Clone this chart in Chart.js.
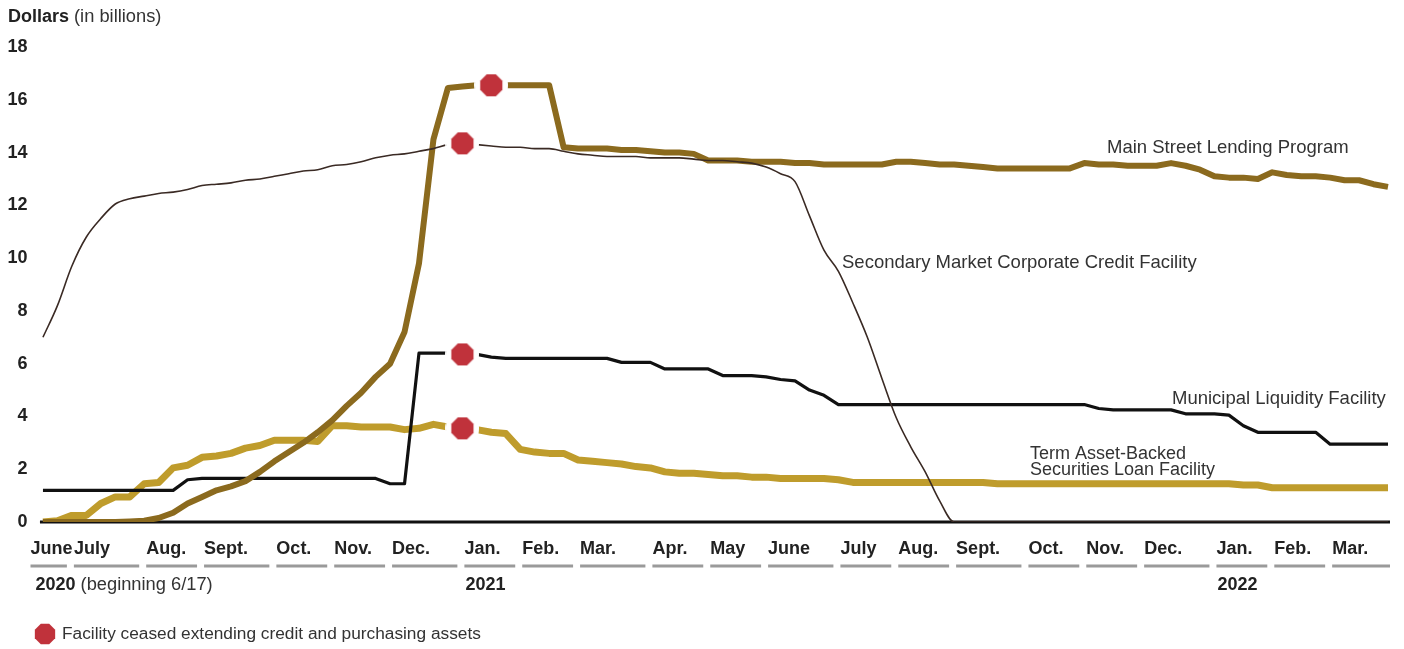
<!DOCTYPE html>
<html>
<head>
<meta charset="utf-8">
<script src="https://cdn.jsdelivr.net/npm/chart.js@4.4.1/dist/chart.umd.min.js"></script>
<style>
  html, body { margin: 0; padding: 0; background: #fff; }
  #wrap { width: 1404px; height: 649px; position: relative; }
</style>
</head>
<body>
<div id="wrap"><canvas id="chart"></canvas></div>
<script>
// weekly observations (Wednesdays), first slot is an empty lead-in for the June label
const weeks = ['',
  '6/17/20', '6/24/20', '7/1/20', '7/8/20', '7/15/20', '7/22/20', '7/29/20', '8/5/20', '8/12/20', '8/19/20',
  '8/26/20', '9/2/20', '9/9/20', '9/16/20', '9/23/20', '9/30/20', '10/7/20', '10/14/20', '10/21/20', '10/28/20',
  '11/4/20', '11/11/20', '11/18/20', '11/25/20', '12/2/20', '12/9/20', '12/16/20', '12/23/20', '12/30/20',
  '1/6/21', '1/13/21', '1/20/21', '1/27/21', '2/3/21', '2/10/21', '2/17/21', '2/24/21', '3/3/21', '3/10/21',
  '3/17/21', '3/24/21', '3/31/21', '4/7/21', '4/14/21', '4/21/21', '4/28/21', '5/5/21', '5/12/21', '5/19/21',
  '5/26/21', '6/2/21', '6/9/21', '6/16/21', '6/23/21', '6/30/21', '7/7/21', '7/14/21', '7/21/21', '7/28/21',
  '8/4/21', '8/11/21', '8/18/21', '8/25/21', '9/1/21', '9/8/21', '9/15/21', '9/22/21', '9/29/21', '10/6/21',
  '10/13/21', '10/20/21', '10/27/21', '11/3/21', '11/10/21', '11/17/21', '11/24/21', '12/1/21', '12/8/21', '12/15/21',
  '12/22/21', '12/29/21',
  '1/5/22', '1/12/22', '1/19/22', '1/26/22', '2/2/22', '2/9/22', '2/16/22', '2/23/22', '3/2/22', '3/9/22',
  '3/16/22', '3/23/22', '3/30/22'];

const monthStarts = [0, 3, 8, 12, 17, 21, 25, 30, 34, 38, 43, 47, 51, 56, 60, 64, 69, 73, 77, 82, 86, 90];
const monthNames = ['June', 'July', 'Aug.', 'Sept.', 'Oct.', 'Nov.', 'Dec.', 'Jan.', 'Feb.', 'Mar.', 'Apr.',
  'May', 'June', 'July', 'Aug.', 'Sept.', 'Oct.', 'Nov.', 'Dec.', 'Jan.', 'Feb.', 'Mar.'];
const yearStarts = [0, 30, 82];
const yearNames = ['2020', '2021', '2022'];
const yTicks = [0, 2, 4, 6, 8, 10, 12, 14, 16, 18];

// dollars in billions
const mainStreet = [null,
  0, 0, 0, 0, 0, 0, 0.02, 0.05, 0.15, 0.35,
  0.7, 0.95, 1.2, 1.35, 1.55, 1.9, 2.3, 2.65, 3.0, 3.4,
  3.85, 4.4, 4.9, 5.5, 6.0, 7.2, 9.8, 14.5, 16.45, 16.5,
  16.55, 16.55, 16.55, 16.55, 16.55, 16.55, 14.2, 14.15, 14.15, 14.15,
  14.1, 14.1, 14.05, 14.0, 14.0, 13.95, 13.7, 13.7, 13.7, 13.65,
  13.65, 13.65, 13.6, 13.6, 13.55, 13.55, 13.55, 13.55, 13.55, 13.65,
  13.65, 13.6, 13.55, 13.55, 13.5, 13.45, 13.4, 13.4, 13.4, 13.4,
  13.4, 13.4, 13.6, 13.55, 13.55, 13.5, 13.5, 13.5, 13.6, 13.5,
  13.35, 13.1, 13.05, 13.05, 13.0, 13.25, 13.15, 13.1, 13.1, 13.05,
  12.95, 12.95, 12.8, 12.7];

const corporateCredit = [null,
  7.0, 8.2, 9.7, 10.8, 11.5, 12.05, 12.25, 12.35, 12.45, 12.5,
  12.6, 12.75, 12.8, 12.85, 12.95, 13.0, 13.1, 13.2, 13.3, 13.35,
  13.5, 13.55, 13.65, 13.8, 13.9, 13.95, 14.05, 14.15, 14.3, 14.35,
  14.3, 14.25, 14.2, 14.2, 14.15, 14.15, 14.05, 13.95, 13.9, 13.85,
  13.85, 13.85, 13.8, 13.8, 13.8, 13.75, 13.7, 13.7, 13.65, 13.6,
  13.45, 13.2, 12.9, 11.6, 10.3, 9.5, 8.3, 7.0, 5.45, 3.95,
  2.85, 1.9, 0.8, 0, 0, 0, 0, 0, 0, 0,
  0, 0, 0, 0, 0, 0, 0, 0, 0, 0,
  0, 0, 0, 0, 0, 0, 0, 0, 0, 0,
  0, 0, 0, 0];

const municipal = [null,
  1.2, 1.2, 1.2, 1.2, 1.2, 1.2, 1.2, 1.2, 1.2, 1.2,
  1.6, 1.65, 1.65, 1.65, 1.65, 1.65, 1.65, 1.65, 1.65, 1.65,
  1.65, 1.65, 1.65, 1.65, 1.45, 1.45, 6.4, 6.4, 6.4, 6.35,
  6.35, 6.25, 6.2, 6.2, 6.2, 6.2, 6.2, 6.2, 6.2, 6.2,
  6.05, 6.05, 6.05, 5.8, 5.8, 5.8, 5.8, 5.55, 5.55, 5.55,
  5.5, 5.4, 5.35, 5.0, 4.8, 4.45, 4.45, 4.45, 4.45, 4.45,
  4.45, 4.45, 4.45, 4.45, 4.45, 4.45, 4.45, 4.45, 4.45, 4.45,
  4.45, 4.45, 4.45, 4.3, 4.25, 4.25, 4.25, 4.25, 4.25, 4.1,
  4.1, 4.1, 4.05, 3.65, 3.4, 3.4, 3.4, 3.4, 3.4, 2.95,
  2.95, 2.95, 2.95, 2.95];

const assetBacked = [null,
  0, 0.05, 0.25, 0.25, 0.7, 0.95, 0.95, 1.45, 1.5, 2.05,
  2.15, 2.45, 2.5, 2.6, 2.8, 2.9, 3.1, 3.1, 3.1, 3.05,
  3.65, 3.65, 3.6, 3.6, 3.6, 3.5, 3.55, 3.7, 3.6, 3.55,
  3.5, 3.4, 3.35, 2.75, 2.65, 2.6, 2.6, 2.35, 2.3, 2.25,
  2.2, 2.1, 2.05, 1.9, 1.85, 1.85, 1.8, 1.75, 1.75, 1.7,
  1.7, 1.65, 1.65, 1.65, 1.65, 1.6, 1.5, 1.5, 1.5, 1.5,
  1.5, 1.5, 1.5, 1.5, 1.5, 1.5, 1.45, 1.45, 1.45, 1.45,
  1.45, 1.45, 1.45, 1.45, 1.45, 1.45, 1.45, 1.45, 1.45, 1.45,
  1.45, 1.45, 1.45, 1.4, 1.4, 1.3, 1.3, 1.3, 1.3, 1.3,
  1.3, 1.3, 1.3, 1.3];

// week each facility ceased extending credit (marker position)
const ceased = { mainStreet: 32, corporateCredit: 30, municipal: 30, assetBacked: 30 };

const FONT = '"Liberation Sans", Arial, Helvetica, sans-serif';
const RED = '#c0323b';
Chart.defaults.font.family = FONT;

const monthAt = {};
monthStarts.forEach((idx, k) => { monthAt[idx] = monthNames[k]; });

function octagon(ctx, cx, cy, r) {
  ctx.beginPath();
  for (let k = 0; k < 8; k++) {
    const a = Math.PI / 8 + k * Math.PI / 4;
    const px = cx + r * Math.cos(a), py = cy + r * Math.sin(a);
    if (k) ctx.lineTo(px, py); else ctx.moveTo(px, py);
  }
  ctx.closePath();
}

// red stop sign with a white halo that breaks the line around it
const marker = document.createElement('canvas');
marker.width = 34;
marker.height = 34;
const mctx = marker.getContext('2d');
mctx.fillStyle = '#fff';
mctx.beginPath();
mctx.arc(17, 17, 17, 0, Math.PI * 2);
mctx.fill();
mctx.fillStyle = RED;
octagon(mctx, 17, 17, 12);
mctx.fill();

function series(label, data, color, width, stopAt, extra) {
  return Object.assign({
    label: label,
    data: data,
    borderColor: color,
    backgroundColor: color,
    borderWidth: width,
    borderJoinStyle: 'round',
    pointStyle: marker,
    pointRadius: c => (c.dataIndex === stopAt ? 12 : 0),
    fill: false,
    tension: 0
  }, extra || {});
}

const decorations = {
  id: 'decorations',
  beforeDatasetsDraw(chart) {
    const { ctx, chartArea } = chart;
    const x = chart.scales.x, y = chart.scales.y;
    const y0 = y.getPixelForValue(0);
    ctx.save();
    ctx.strokeStyle = '#111';
    ctx.lineWidth = 3;
    ctx.beginPath();
    ctx.moveTo(x.getPixelForValue(1) - 3, y0);
    ctx.lineTo(chartArea.right + 2, y0);
    ctx.stroke();
    ctx.restore();
  },
  afterDraw(chart) {
    const { ctx, chartArea } = chart;
    const x = chart.scales.x;
    ctx.save();
    ctx.textBaseline = 'middle';
    ctx.textAlign = 'left';

    // axis title
    ctx.fillStyle = '#222';
    ctx.font = 'bold 18px ' + FONT;
    ctx.fillText('Dollars', 8, 17);
    const w = ctx.measureText('Dollars ').width;
    ctx.font = '18.3px ' + FONT;
    ctx.fillStyle = '#333';
    ctx.fillText('(in billions)', 8 + w, 17);

    // month underlines
    ctx.strokeStyle = '#9a9a9a';
    ctx.lineWidth = 3;
    monthStarts.forEach((idx, k) => {
      const x1 = x.getPixelForValue(idx) + 2;
      const x2 = k < monthStarts.length - 1
        ? x.getPixelForValue(monthStarts[k + 1]) - 5
        : chartArea.right + 2;
      ctx.beginPath();
      ctx.moveTo(x1, 566);
      ctx.lineTo(x2, 566);
      ctx.stroke();
    });

    // years
    yearStarts.forEach((idx, k) => {
      const px = x.getPixelForValue(idx) + (k === 0 ? 7 : 3);
      ctx.font = 'bold 18px ' + FONT;
      ctx.fillStyle = '#222';
      ctx.fillText(yearNames[k], px, 585);
      if (k === 0) {
        const yw = ctx.measureText(yearNames[k] + ' ').width;
        ctx.font = '18.3px ' + FONT;
        ctx.fillStyle = '#333';
        ctx.fillText('(beginning 6/17)', px + yw, 585);
      }
    });

    // series labels
    ctx.font = '18.5px ' + FONT;
    ctx.fillStyle = '#333';
    ctx.fillText('Main Street Lending Program', 1107, 148);
    ctx.fillText('Secondary Market Corporate Credit Facility', 842, 263);
    ctx.fillText('Municipal Liquidity Facility', 1172, 399);
    ctx.font = '18px ' + FONT;
    ctx.fillText('Term Asset-Backed', 1030, 454);
    ctx.fillText('Securities Loan Facility', 1030, 470);

    // key
    ctx.fillStyle = RED;
    octagon(ctx, 45, 634, 11);
    ctx.fill();
    ctx.font = '17.3px ' + FONT;
    ctx.fillStyle = '#333';
    ctx.fillText('Facility ceased extending credit and purchasing assets', 62, 634);
    ctx.restore();
  }
};

new Chart(document.getElementById('chart'), {
  type: 'line',
  data: {
    labels: weeks,
    datasets: [
      series('Secondary Market Corporate Credit Facility', corporateCredit, '#3a2a24', 1.6, ceased.corporateCredit,
        { cubicInterpolationMode: 'monotone' }),
      series('Main Street Lending Program', mainStreet, '#8b6a1e', 6, ceased.mainStreet),
      series('Municipal Liquidity Facility', municipal, '#111111', 3.2, ceased.municipal),
      series('Term Asset-Backed Securities Loan Facility', assetBacked, '#bf9c2c', 7, ceased.assetBacked)
    ]
  },
  options: {
    responsive: true,
    maintainAspectRatio: false,
    animation: false,
    events: [],
    layout: { padding: { top: 47, right: 10.6, bottom: 0, left: 0 } },
    plugins: { legend: { display: false }, tooltip: { enabled: false } },
    scales: {
      x: {
        type: 'category',
        offset: false,
        grid: { display: false, drawTicks: false },
        border: { display: false },
        ticks: {
          autoSkip: false,
          maxRotation: 0,
          minRotation: 0,
          align: 'start',
          labelOffset: 2,
          padding: 16,
          color: '#222',
          font: { size: 18, weight: 'bold' },
          callback: (v, i) => monthAt[i] || ''
        },
        afterFit: s => { s.height = 127; }
      },
      y: {
        min: yTicks[0],
        max: yTicks[yTicks.length - 1],
        grid: { display: false, drawTicks: false },
        border: { display: false },
        ticks: {
          stepSize: 2,
          crossAlign: 'near',
          padding: 1,
          color: '#222',
          font: { size: 18, weight: 'bold' }
        },
        afterFit: s => { s.width = 28.5; }
      }
    }
  },
  plugins: [decorations]
});
</script>
</body>
</html>
